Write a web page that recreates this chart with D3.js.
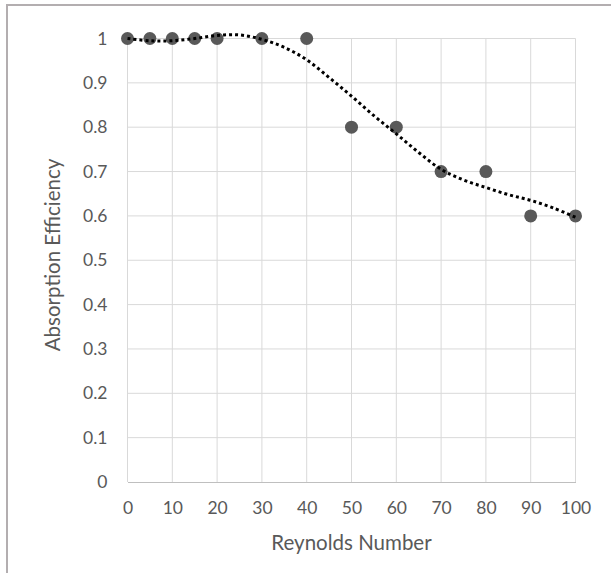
<!DOCTYPE html>
<html><head><meta charset="utf-8">
<script src="https://cdn.jsdelivr.net/npm/d3@7"></script>
<style>body{margin:0;background:#fff}svg{display:block}text{font-family:Lato,"Open Sans",sans-serif;fill:#595959}</style>
</head><body>
<svg id="c" width="611" height="573"></svg>
<script>
const reynolds = [0,5,10,15,20,30,40,50,60,70,80,90,100];
const efficiency = [1,1,1,1,1,1,1,0.8,0.8,0.7,0.7,0.6,0.6];
const trendX = [0,5,10,15,20,25,30,35,40,45,50,55,60,65,70,75,80,85,90,95,100];
const trendY = [1.0,0.995,0.995,1.0,1.007,1.008,0.998,0.98,0.952,0.912,0.87,0.826,0.785,0.743,0.705,0.681,0.664,0.648,0.635,0.618,0.597];
const xTicks = [0,10,20,30,40,50,60,70,80,90,100];
const yTicks = [0,0.1,0.2,0.3,0.4,0.5,0.6,0.7,0.8,0.9,1];
const xTitle = "Reynolds Number";
const yTitle = "Absorption Efficiency";

const svg = d3.select("#c");
svg.append("rect").attr("x",7).attr("y",5).attr("width",610).attr("height",580)
  .attr("fill","none").attr("stroke","#b3aeb0").attr("stroke-width",2);

const x = d3.scaleLinear().domain([0,100]).range([127.5,575.5]);
const y = d3.scaleLinear().domain([0,1]).range([482,38.5]);

const g = svg.append("g");
g.selectAll(".vg").data(xTicks).join("line")
  .attr("x1",d=>x(d)).attr("x2",d=>x(d)).attr("y1",y(1)).attr("y2",y(0))
  .attr("stroke","#d9d9d9").attr("stroke-width",1);
g.selectAll(".hg").data(yTicks.filter(d=>d>0)).join("line")
  .attr("x1",x(0)).attr("x2",x(100)).attr("y1",d=>y(d)).attr("y2",d=>y(d))
  .attr("stroke","#d9d9d9").attr("stroke-width",1);

const xa = svg.append("g").attr("transform",`translate(0,${y(0)})`)
  .call(d3.axisBottom(x).tickValues(xTicks).tickSize(0).tickPadding(20).tickFormat(d3.format("d")));
xa.select(".domain").attr("stroke","#bfbfbf");
xa.selectAll("text").style("font-size","17.5px").attr("fill","#595959");
const ya = svg.append("g").attr("transform",`translate(${x(0)},0)`)
  .call(d3.axisLeft(y).tickValues(yTicks).tickSize(0).tickPadding(20).tickFormat(d=>d===0?"0":d===1?"1":d3.format(".1f")(d)));
ya.select(".domain").remove();
ya.selectAll("text").style("font-size","17.5px").attr("fill","#595959");

svg.append("g").selectAll("circle").data(reynolds.map((r,i)=>[r,efficiency[i]])).join("circle")
  .attr("cx",d=>x(d[0])).attr("cy",d=>y(d[1])).attr("r",6.5).attr("fill","#595959");

const line = d3.line().x(d=>x(d[0])).y(d=>y(d[1])).curve(d3.curveCatmullRom);
svg.append("path").datum(trendX.map((t,i)=>[t,trendY[i]]))
  .attr("d",line).attr("fill","none").attr("stroke","#000").attr("stroke-width",3)
  .attr("stroke-dasharray","3,3");

svg.append("text").attr("x",(x(0)+x(100))/2).attr("y",550).attr("text-anchor","middle")
  .style("font-size","20.5px").text(xTitle);
svg.append("text").attr("transform",`translate(60,255) rotate(-90)`)
  .attr("text-anchor","middle").style("font-size","20.5px").text(yTitle);
</script>
</body></html>
